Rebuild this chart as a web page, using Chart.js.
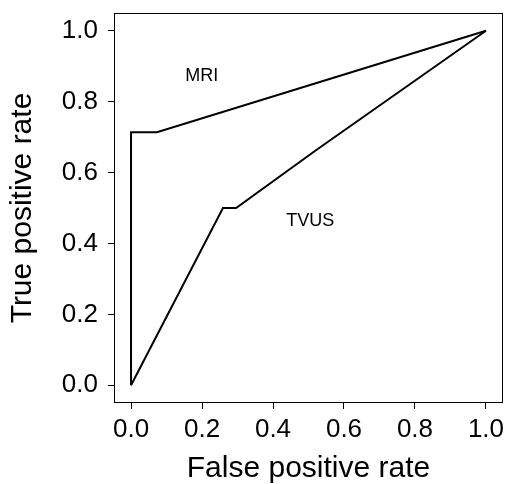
<!DOCTYPE html>
<html>
<head>
<meta charset="utf-8">
<script src="https://cdn.jsdelivr.net/npm/chart.js@4.4.0/dist/chart.umd.min.js"></script>
<style>
  html, body { margin: 0; padding: 0; background: #fff; }
  #roc { display: block; }
</style>
</head>
<body>
<canvas id="roc" width="508" height="484"></canvas>
<script>
/* =====================
  Data
===================== */
var mriFpr = [0, 0, 0.073, 1];
var mriTpr = [0, 0.714, 0.714, 1];
var tvusFpr = [0, 0.259, 0.296, 0.52, 1];
var tvusTpr = [0, 0.5, 0.5, 0.662, 1];

var tickValues = [0, 0.2, 0.4, 0.6, 0.8, 1.0];

var curveNames = ['MRI', 'TVUS'];
var curveLabelX = [0.199, 0.505];
var curveLabelY = [0.871, 0.462];

var toPoints = function (xs, ys) {
  return xs.map(function (x, i) { return {x: x, y: ys[i]}; });
};

/* =====================
  Plugins
===================== */
// box round the plot area, like R's box()
var frameBox = {
  id: 'frameBox',
  afterDraw: function (chart) {
    var a = chart.chartArea;
    var ctx = chart.ctx;
    ctx.save();
    ctx.strokeStyle = '#000';
    ctx.lineWidth = 1;
    ctx.strokeRect(a.left + 0.5, a.top + 0.5, a.right - a.left - 1, a.bottom - a.top - 1);
    ctx.restore();
  }
};

// curve names written inside the plot
var curveText = {
  id: 'curveText',
  afterDatasetsDraw: function (chart) {
    var ctx = chart.ctx;
    var xs = chart.scales.x, ys = chart.scales.y;
    ctx.save();
    ctx.fillStyle = '#000';
    ctx.font = '18px "Liberation Sans", Arial, sans-serif';
    ctx.textAlign = 'center';
    ctx.textBaseline = 'middle';
    curveNames.forEach(function (name, i) {
      ctx.fillText(name, xs.getPixelForValue(curveLabelX[i]), ys.getPixelForValue(curveLabelY[i]));
    });
    ctx.restore();
  }
};

/* =====================
  Chart
===================== */
var setTicks = function (scale) {
  scale.ticks = tickValues.map(function (v) { return {value: v}; });
};

var tickFont = {family: '"Liberation Sans", Arial, sans-serif', size: 26};

var ctx = document.getElementById('roc').getContext('2d');
var rocChart = new Chart(ctx, {
  type: 'scatter',
  data: {
    datasets: [{
      label: 'MRI',
      data: toPoints(mriFpr, mriTpr),
      showLine: true,
      borderColor: '#000',
      borderWidth: 2,
      pointRadius: 0,
      tension: 0
    }, {
      label: 'TVUS',
      data: toPoints(tvusFpr, tvusTpr),
      showLine: true,
      borderColor: '#000',
      borderWidth: 2,
      pointRadius: 0,
      tension: 0
    }]
  },
  options: {
    responsive: false,
    animation: false,
    devicePixelRatio: 1,
    layout: {padding: {top: 13, right: 5, left: 0, bottom: 0}},
    plugins: {
      legend: {display: false},
      tooltip: {enabled: false}
    },
    scales: {
      x: {
        type: 'linear',
        min: -0.048,
        max: 1.048,
        afterBuildTicks: setTicks,
        afterFit: function (scale) {
          scale.height = 81;
          scale.paddingLeft = 0;
          scale.paddingRight = 0;
        },
        grid: {drawOnChartArea: false, drawTicks: true, tickLength: 6, color: '#000', tickColor: '#000'},
        border: {display: false},
        ticks: {
          color: '#000',
          font: tickFont,
          padding: 5,
          maxRotation: 0,
          callback: function (v) { return v.toFixed(1); }
        },
        title: {
          display: true,
          text: 'False positive rate',
          color: '#000',
          font: {family: '"Liberation Sans", Arial, sans-serif', size: 30, lineHeight: 1.0},
          padding: {top: 0, bottom: 0}
        }
      },
      y: {
        type: 'linear',
        min: -0.05,
        max: 1.05,
        afterBuildTicks: setTicks,
        afterFit: function (scale) {
          scale.width = 114;
          scale.paddingTop = 0;
          scale.paddingBottom = 0;
        },
        grid: {drawOnChartArea: false, drawTicks: true, tickLength: 6, color: '#000', tickColor: '#000'},
        border: {display: false},
        ticks: {
          color: '#000',
          font: tickFont,
          padding: 10,
          callback: function (v) { return v.toFixed(1); }
        },
        title: {
          display: true,
          text: 'True positive rate',
          color: '#000',
          font: {family: '"Liberation Sans", Arial, sans-serif', size: 30, lineHeight: 1.2},
          padding: {top: 5, bottom: 0}
        }
      }
    }
  },
  plugins: [frameBox, curveText]
});
</script>
</body>
</html>
